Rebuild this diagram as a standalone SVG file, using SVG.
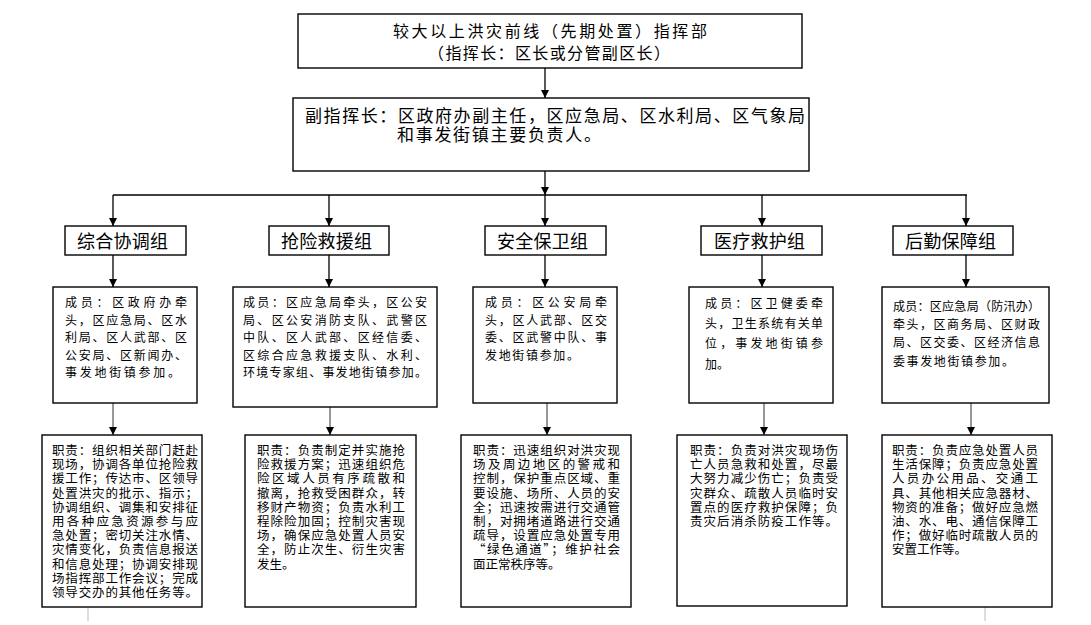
<svg xmlns="http://www.w3.org/2000/svg" width="1091" height="625" viewBox="0 0 1091 625">
<style>
.box{fill:#fff;stroke:#000;stroke-width:1.4}
.t{font-family:"Noto Sans CJK SC","Noto Sans",sans-serif;fill:#000}
.h{font-size:16px}
.g{font-size:18px}
.m{font-size:12px}
.d{font-size:12.5px}
.c{stroke:#000;stroke-width:1.3;fill:none}
.c2{stroke:#333;stroke-width:1;fill:none}
.f{stroke:#bbb;stroke-width:1;fill:none}
</style>
<defs>
<marker id="ah" viewBox="0 0 10 10" refX="10" refY="5" markerUnits="userSpaceOnUse" markerWidth="10" markerHeight="8" orient="auto"><path d="M0,0 L10,5 L0,10 z" fill="#000"/></marker>
</defs>
<rect width="1091" height="625" fill="#fff"/>
<g id="connectors">
<line class="c" x1="545" y1="68" x2="545" y2="98" marker-end="url(#ah)"/>
<line class="c" x1="545" y1="171" x2="545" y2="195" marker-end="url(#ah)"/>
<line class="c" x1="113" y1="195" x2="967" y2="195"/>
<line class="c" x1="113" y1="195" x2="113" y2="226" marker-end="url(#ah)"/>
<line class="c" x1="329" y1="195" x2="329" y2="226" marker-end="url(#ah)"/>
<line class="c" x1="545" y1="195" x2="545" y2="226" marker-end="url(#ah)"/>
<line class="c" x1="762" y1="195" x2="762" y2="226" marker-end="url(#ah)"/>
<line class="c" x1="966" y1="195" x2="966" y2="226" marker-end="url(#ah)"/>
<line class="c" x1="113" y1="255" x2="113" y2="287" marker-end="url(#ah)"/>
<line class="c" x1="329" y1="255" x2="329" y2="287" marker-end="url(#ah)"/>
<line class="c" x1="545" y1="255" x2="545" y2="287" marker-end="url(#ah)"/>
<line class="c" x1="762" y1="255" x2="762" y2="287" marker-end="url(#ah)"/>
<line class="c" x1="966" y1="255" x2="966" y2="287" marker-end="url(#ah)"/>
<line class="c2" x1="113" y1="403" x2="113" y2="435" marker-end="url(#ah)"/>
<line class="c2" x1="330" y1="407" x2="330" y2="435" marker-end="url(#ah)"/>
<line class="c2" x1="547" y1="403" x2="547" y2="435" marker-end="url(#ah)"/>
<line class="c2" x1="764" y1="403" x2="764" y2="435" marker-end="url(#ah)"/>
<line class="c2" x1="971" y1="403" x2="971" y2="435" marker-end="url(#ah)"/>
<line class="f" x1="88" y1="607" x2="88" y2="621"/>
<line class="f" x1="985" y1="607" x2="985" y2="621"/>
</g>
<g id="top">
<rect class="box" x="298" y="14" width="504" height="54"/>
<text class="t h" x="393" y="37" textLength="314" lengthAdjust="spacing">较大以上洪灾前线（先期处置）指挥部</text>
<text class="t h" x="428" y="59" textLength="242" lengthAdjust="spacing">（指挥长：区长或分管副区长）</text>
</g>
<g id="deputy">
<rect class="box" x="293" y="98" width="516" height="73"/>
<text class="t" style="font-size:17px" x="305" y="122" textLength="500" lengthAdjust="spacing">副指挥长：区政府办副主任，区应急局、区水利局、区气象局</text>
<text class="t" style="font-size:17px" x="397" y="141" textLength="204" lengthAdjust="spacing">和事发街镇主要负责人。</text>
</g>
<g id="g1">
<rect class="box" x="65" y="226" width="121" height="29"/>
<text class="t g" x="77" y="248" textLength="91" lengthAdjust="spacing">综合协调组</text>
</g>
<g id="g2">
<rect class="box" x="269" y="226" width="120" height="29"/>
<text class="t g" x="281" y="248" textLength="91" lengthAdjust="spacing">抢险救援组</text>
</g>
<g id="g3">
<rect class="box" x="485" y="226" width="121" height="29"/>
<text class="t g" x="497" y="248" textLength="91" lengthAdjust="spacing">安全保卫组</text>
</g>
<g id="g4">
<rect class="box" x="701" y="226" width="121" height="29"/>
<text class="t g" x="714" y="248" textLength="91" lengthAdjust="spacing">医疗救护组</text>
</g>
<g id="g5">
<rect class="box" x="893" y="226" width="120" height="29"/>
<text class="t g" x="905" y="248" textLength="91" lengthAdjust="spacing">后勤保障组</text>
</g>
<g id="m1">
<rect class="box" x="53" y="287" width="144" height="116"/>
<text class="t m" x="65" y="307" textLength="122" lengthAdjust="spacing">成员：区政府办牵</text>
<text class="t m" x="65" y="324.5" textLength="122" lengthAdjust="spacing">头，区应急局、区水</text>
<text class="t m" x="65" y="342" textLength="122" lengthAdjust="spacing">利局、区人武部、区</text>
<text class="t m" x="65" y="359.5" textLength="122" lengthAdjust="spacing">公安局、区新闻办、</text>
<text class="t m" x="65" y="376.5" textLength="115" lengthAdjust="spacing">事发地街镇参加。</text>
</g>
<g id="m2">
<rect class="box" x="233" y="287" width="204" height="120"/>
<text class="t m" x="243" y="307" textLength="184" lengthAdjust="spacing">成员：区应急局牵头，区公安</text>
<text class="t m" x="243" y="324.5" textLength="184" lengthAdjust="spacing">局、区公安消防支队、武警区</text>
<text class="t m" x="243" y="342" textLength="184" lengthAdjust="spacing">中队、区人武部、区经信委、</text>
<text class="t m" x="243" y="359.5" textLength="184" lengthAdjust="spacing">区综合应急救援支队、水利、</text>
<text class="t m" x="243" y="377" textLength="184" lengthAdjust="spacing">环境专家组、事发地街镇参加。</text>
</g>
<g id="m3">
<rect class="box" x="473" y="287" width="144" height="116"/>
<text class="t m" x="485" y="307" textLength="122" lengthAdjust="spacing">成员：区公安局牵</text>
<text class="t m" x="485" y="324.5" textLength="122" lengthAdjust="spacing">头，区人武部、区交</text>
<text class="t m" x="485" y="342" textLength="122" lengthAdjust="spacing">委、区武警中队、事</text>
<text class="t m" x="485" y="359.5" textLength="94" lengthAdjust="spacing">发地街镇参加。</text>
</g>
<g id="m4">
<rect class="box" x="689" y="287" width="144" height="116"/>
<text class="t m" x="705" y="308" textLength="118" lengthAdjust="spacing">成员：区卫健委牵</text>
<text class="t m" x="705" y="328" textLength="118" lengthAdjust="spacing">头，卫生系统有关单</text>
<text class="t m" x="705" y="348" textLength="118" lengthAdjust="spacing">位，事发地街镇参</text>
<text class="t m" x="705" y="368.5">加。</text>
</g>
<g id="m5">
<rect class="box" x="882" y="287" width="167" height="116"/>
<text class="t m" x="893" y="310.5" textLength="147" lengthAdjust="spacing">成员：区应急局（防汛办）</text>
<text class="t m" x="893" y="328.5" textLength="147" lengthAdjust="spacing">牵头，区商务局、区财政</text>
<text class="t m" x="893" y="347" textLength="147" lengthAdjust="spacing">局、区交委、区经济信息</text>
<text class="t m" x="893" y="366" textLength="121" lengthAdjust="spacing">委事发地街镇参加。</text>
</g>
<g id="d1">
<rect class="box" x="42" y="435" width="160" height="172"/>
<text class="t d" x="52" y="455" textLength="146" lengthAdjust="spacing">职责：组织相关部门赶赴</text>
<text class="t d" x="52" y="469.2" textLength="146" lengthAdjust="spacing">现场，协调各单位抢险救</text>
<text class="t d" x="52" y="483.4" textLength="146" lengthAdjust="spacing">援工作；传达市、区领导</text>
<text class="t d" x="52" y="497.6" textLength="146" lengthAdjust="spacing">处置洪灾的批示、指示；</text>
<text class="t d" x="52" y="511.8" textLength="146" lengthAdjust="spacing">协调组织、调集和安排征</text>
<text class="t d" x="52" y="526" textLength="146" lengthAdjust="spacing">用各种应急资源参与应</text>
<text class="t d" x="52" y="540.2" textLength="146" lengthAdjust="spacing">急处置；密切关注水情、</text>
<text class="t d" x="52" y="554.4" textLength="146" lengthAdjust="spacing">灾情变化，负责信息报送</text>
<text class="t d" x="52" y="568.6" textLength="146" lengthAdjust="spacing">和信息处理；协调安排现</text>
<text class="t d" x="52" y="582.8" textLength="146" lengthAdjust="spacing">场指挥部工作会议；完成</text>
<text class="t d" x="52" y="597" textLength="146" lengthAdjust="spacing">领导交办的其他任务等。</text>
</g>
<g id="d2">
<rect class="box" x="245" y="435" width="171" height="172"/>
<text class="t d" x="257" y="455" textLength="148" lengthAdjust="spacing">职责：负责制定并实施抢</text>
<text class="t d" x="257" y="469.2" textLength="148" lengthAdjust="spacing">险救援方案；迅速组织危</text>
<text class="t d" x="257" y="483.4" textLength="148" lengthAdjust="spacing">险区域人员有序疏散和</text>
<text class="t d" x="257" y="497.6" textLength="148" lengthAdjust="spacing">撤离，抢救受困群众，转</text>
<text class="t d" x="257" y="511.8" textLength="148" lengthAdjust="spacing">移财产物资；负责水利工</text>
<text class="t d" x="257" y="526" textLength="148" lengthAdjust="spacing">程除险加固；控制灾害现</text>
<text class="t d" x="257" y="540.2" textLength="148" lengthAdjust="spacing">场，确保应急处置人员安</text>
<text class="t d" x="257" y="554.4" textLength="148" lengthAdjust="spacing">全，防止次生、衍生灾害</text>
<text class="t d" x="257" y="568.6">发生。</text>
</g>
<g id="d3">
<rect class="box" x="461" y="435" width="170" height="172"/>
<text class="t d" x="473" y="455" textLength="147" lengthAdjust="spacing">职责：迅速组织对洪灾现</text>
<text class="t d" x="473" y="469.2" textLength="147" lengthAdjust="spacing">场及周边地区的警戒和</text>
<text class="t d" x="473" y="483.4" textLength="147" lengthAdjust="spacing">控制，保护重点区域、重</text>
<text class="t d" x="473" y="497.6" textLength="147" lengthAdjust="spacing">要设施、场所、人员的安</text>
<text class="t d" x="473" y="511.8" textLength="147" lengthAdjust="spacing">全；迅速按需进行交通管</text>
<text class="t d" x="473" y="526" textLength="147" lengthAdjust="spacing">制，对拥堵道路进行交通</text>
<text class="t d" x="473" y="540.2" textLength="147" lengthAdjust="spacing">疏导，设置应急处置专用</text>
<text class="t d" x="473" y="554.4" textLength="147" lengthAdjust="spacing">“绿色通道”；维护社会</text>
<text class="t d" x="473" y="568.6">面正常秩序等。</text>
</g>
<g id="d4">
<rect class="box" x="677" y="435" width="170" height="171"/>
<text class="t d" x="690" y="455" textLength="148" lengthAdjust="spacing">职责：负责对洪灾现场伤</text>
<text class="t d" x="690" y="469.2" textLength="148" lengthAdjust="spacing">亡人员急救和处置，尽最</text>
<text class="t d" x="690" y="483.4" textLength="148" lengthAdjust="spacing">大努力减少伤亡；负责受</text>
<text class="t d" x="690" y="497.6" textLength="148" lengthAdjust="spacing">灾群众、疏散人员临时安</text>
<text class="t d" x="690" y="511.8" textLength="148" lengthAdjust="spacing">置点的医疗救护保障；负</text>
<text class="t d" x="690" y="526" textLength="148" lengthAdjust="spacing">责灾后消杀防疫工作等。</text>
</g>
<g id="d5">
<rect class="box" x="882" y="435" width="170" height="172"/>
<text class="t d" x="892" y="455" textLength="146" lengthAdjust="spacing">职责：负责应急处置人员</text>
<text class="t d" x="892" y="469.2" textLength="146" lengthAdjust="spacing">生活保障；负责应急处置</text>
<text class="t d" x="892" y="483.4" textLength="146" lengthAdjust="spacing">人员办公用品、交通工</text>
<text class="t d" x="892" y="497.6" textLength="146" lengthAdjust="spacing">具、其他相关应急器材、</text>
<text class="t d" x="892" y="511.8" textLength="146" lengthAdjust="spacing">物资的准备；做好应急燃</text>
<text class="t d" x="892" y="526" textLength="146" lengthAdjust="spacing">油、水、电、通信保障工</text>
<text class="t d" x="892" y="540.2" textLength="146" lengthAdjust="spacing">作；做好临时疏散人员的</text>
<text class="t d" x="892" y="554.4">安置工作等。</text>
</g>
</svg>
